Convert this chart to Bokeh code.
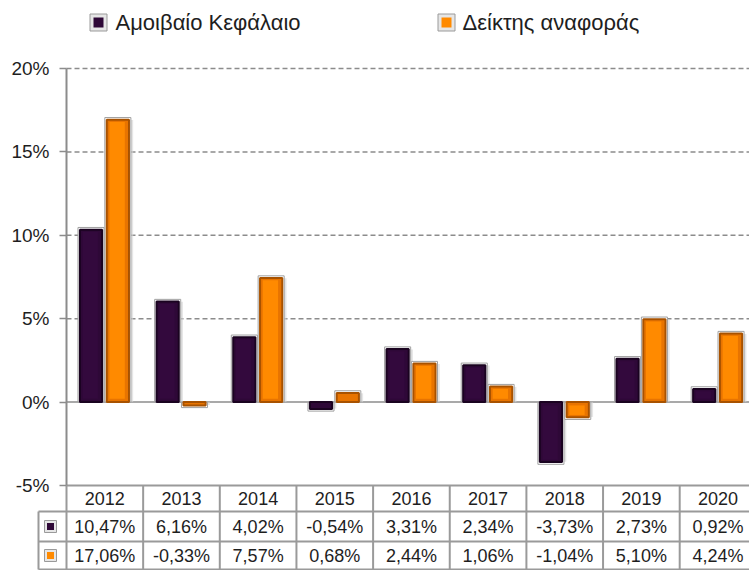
import numpy as np
from bokeh.plotting import figure
from bokeh.models import Range1d, LinearAxis, FixedTicker, PrintfTickFormatter, ColumnDataSource
from bokeh.core.properties import value
from bokeh.embed import file_html
from bokeh.resources import INLINE

# ---- data ----
years = ["2012", "2013", "2014", "2015", "2016", "2017", "2018", "2019", "2020"]
fund = [10.47, 6.16, 4.02, -0.54, 3.31, 2.34, -3.73, 2.73, 0.92]
bench = [17.06, -0.33, 7.57, 0.68, 2.44, 1.06, -1.04, 5.10, 4.24]
series_names = ["Αμοιβαίο Κεφάλαιο", "Δείκτης αναφοράς"]
y_ticks = [-5, 0, 5, 10, 15, 20]
grid_ticks = [5, 10, 15, 20]

PURPLE = "#2E0837"
PURPLE_EDGE = "#1A0320"
PURPLE_IN = "#33093D"
ORANGE = "#E87400"
ORANGE_EDGE = "#A85200"
ORANGE_IN = "#FF8A00"
GRID = "#8C8C8C"
FONT = "Liberation Sans"
TXT = "#1E1E1E"

# ---- layout (page pixel -> data helpers) ----
ORIGIN = 0
W_PX, H_PX = 749, 570
COL = 76.65          # px per category
AX_X = 66            # page x of y-axis
PX_PER = 16.68       # px per percentage point
Y20 = 68             # page y of 20%

def dx(px):
    return (px - AX_X) / COL - 0.5

def dy(py):
    return 20 - (py - Y20) / PX_PER

n = len(years)
xs = np.arange(n)

p = figure(width=W_PX, height=H_PX,
           x_range=Range1d(dx(ORIGIN), dx(ORIGIN + W_PX)),
           y_range=Range1d(dy(ORIGIN + H_PX), dy(ORIGIN)),
           output_backend="svg", toolbar_location=None,
           x_axis_location=None, y_axis_location=None, min_border=0)
p.outline_line_color = None
p.background_fill_color = "white"
p.border_fill_color = "white"
for g in p.grid:
    g.visible = False

x_end = dx(ORIGIN + W_PX)

# gridlines
p.segment(x0=[-0.5] * len(grid_ticks), y0=grid_ticks, x1=[x_end] * len(grid_ticks), y1=grid_ticks,
          line_color=GRID, line_width=1.5, line_dash="5 3")
p.segment(x0=[-0.5], y0=[0], x1=[x_end], y1=[0], line_color=GRID, line_width=1.5)

# bars
def bars(xc, vals, fill, edge, inner):
    v = np.array(vals)
    s = np.sign(v)
    bw = 0.34
    inset_y = 2.2 / PX_PER
    bev_y = 4.5 / PX_PER
    # shadow
    p.vbar(x=xc + 0.03, top=v - s * 0.15, bottom=0, width=bw, fill_color="#D5D5D5",
           fill_alpha=0.6, line_color=None)
    # frame
    p.vbar(x=xc, top=v, bottom=0, width=bw, fill_color="white", line_color="#A0A0A0", line_width=1)
    # body
    p.vbar(x=xc, top=v - s * inset_y, bottom=0, width=bw - 0.05, fill_color=fill,
           line_color=edge, line_width=2)
    # bevel highlight
    top_in = v - s * bev_y
    bot_in = s * 0.2
    keep = np.abs(v) > 0.75
    p.vbar(x=(xc - 0.01)[keep], top=top_in[keep], bottom=bot_in[keep], width=bw - 0.14,
           fill_color=inner, line_color=None)

bars(xs - 0.18, fund, PURPLE, PURPLE_EDGE, PURPLE_IN)
bars(xs + 0.17, bench, ORANGE, ORANGE_EDGE, ORANGE_IN)

# y axis
yaxis = LinearAxis(fixed_location=-0.5, bounds=(-5, 20), ticker=FixedTicker(ticks=y_ticks),
                   formatter=PrintfTickFormatter(format="%d%%"))
yaxis.axis_line_color = GRID
yaxis.axis_line_width = 2
yaxis.major_tick_line_color = GRID
yaxis.major_tick_line_width = 1.5
yaxis.major_tick_out = 7
yaxis.major_tick_in = 0
yaxis.minor_tick_line_color = None
yaxis.major_label_text_font = FONT
yaxis.major_label_text_font_size = "19px"
yaxis.major_label_text_color = TXT
yaxis.major_label_standoff = 10
p.add_layout(yaxis, "left")

# ---- data table ----
r0, r1, r2, r3 = dy(485), dy(511), dy(541), dy(ORIGIN + H_PX - 1)
key_l = dx(38)
TL = "#9A9A9A"
p.segment(x0=[-0.5, key_l, key_l, key_l], y0=[r0, r1, r2, r3],
          x1=[x_end] * 4, y1=[r0, r1, r2, r3], line_color=TL, line_width=2)
vx = [-0.5 + k for k in range(n + 1)]
p.segment(x0=vx, y0=[r0] * len(vx), x1=vx, y1=[r3] * len(vx), line_color=TL, line_width=2)
p.segment(x0=[key_l], y0=[r1], x1=[key_l], y1=[r3], line_color=TL, line_width=2)

def fmt(v):
    return f"{v:.2f}%".replace(".", ",")

tsrc = ColumnDataSource(dict(
    x=list(xs) * 3,
    y=[(r0 + r1) / 2] * n + [(r1 + r2) / 2] * n + [(r2 + r3) / 2] * n,
    t=years + [fmt(v) for v in fund] + [fmt(v) for v in bench],
))
p.text(x="x", y="y", text="t", source=tsrc, text_align="center", text_baseline="middle",
       text_font=value(FONT), text_font_size="18px", text_color=TXT)

# table key markers
kx = dx(50)
p.scatter(x=[kx, kx], y=[(r1 + r2) / 2, (r2 + r3) / 2], marker="square", size=12,
          fill_color="#E6E6E6", line_color="#9A9A9A", line_width=1)
p.scatter(x=[kx, kx], y=[(r1 + r2) / 2, (r2 + r3) / 2], marker="square", size=7,
          fill_color=[PURPLE, ORANGE_IN], line_color=None)

# ---- legend ----
ly = dy(22)
lkx = [dx(98), dx(446)]
p.scatter(x=lkx, y=[ly, ly], marker="square", size=17, fill_color="#E6E6E6",
          line_color="#9A9A9A", line_width=1)
p.scatter(x=lkx, y=[ly, ly], marker="square", size=10, fill_color=[PURPLE, ORANGE_IN],
          line_color=None)
p.text(x=[dx(115), dx(462)], y=[ly, ly], text=series_names, text_align="left",
       text_baseline="middle", text_font=value(FONT), text_font_size="22px", text_color=TXT)

open("out.html", "w").write(file_html(p, INLINE))
